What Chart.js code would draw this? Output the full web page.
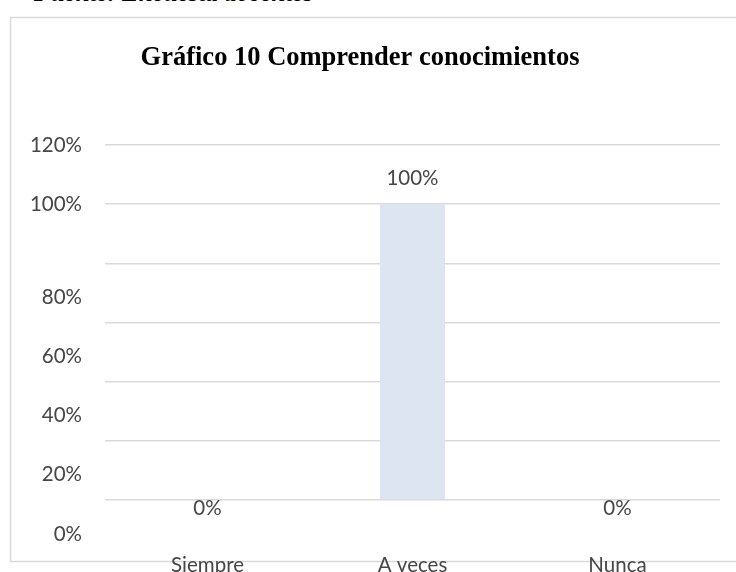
<!DOCTYPE html>
<html>
<head>
<meta charset="utf-8">
<script src="https://cdn.jsdelivr.net/npm/chart.js@4.4.0/dist/chart.umd.min.js"></script>
<style>
  html, body { margin: 0; padding: 0; background: #ffffff; overflow: hidden; width: 736px; height: 572px; }
  #wrap { position: relative; width: 736px; height: 572px; overflow: hidden; }
  #fuente { position: absolute; left: 34px; top: -20px; font-family: 'Liberation Serif', serif; font-size: 25px; line-height: 25px; font-weight: bold; font-style: italic; color: #000; white-space: nowrap; }
  canvas { position: absolute; left: 0; top: 0; }
</style>
</head>
<body>
<div id="wrap">
  <div id="fuente">Fuente: Encuesta docentes</div>
  <canvas id="c" width="736" height="600"></canvas>
</div>
<script>
const chartTitle = 'Gráfico 10 Comprender conocimientos';
const categories = ['Siempre', 'A veces', 'Nunca'];
const values = [0, 1, 0];
const yTickValues = [0, 0.2, 0.4, 0.6, 0.8, 1.0, 1.2];
const yTickLabels = ['0%', '20%', '40%', '60%', '80%', '100%', '120%'];
const dataLabels = ['0%', '100%', '0%'];

const LABEL_SHIFT = 34;      // reference renders lower labels displaced downward
const textColor = '#464646';
const labelFont = '20.5px Lato, "Noto Sans", sans-serif';

const framePlugin = {
  id: 'frame',
  beforeDraw(chart) {
    const ctx = chart.ctx;
    ctx.save();
    ctx.strokeStyle = '#d9d9d9';
    ctx.lineWidth = 1.5;
    ctx.beginPath();
    ctx.moveTo(740, 17.5);
    ctx.lineTo(10.5, 17.5);
    ctx.lineTo(10.5, 561.5);
    ctx.lineTo(740, 561.5);
    ctx.stroke();
    ctx.restore();
  }
};

const labelsPlugin = {
  id: 'customLabels',
  afterDraw(chart) {
    const ctx = chart.ctx;
    const ys = chart.scales.y;
    ctx.save();
    ctx.font = labelFont;
    ctx.fillStyle = textColor;
    ctx.textBaseline = 'middle';
    ctx.textAlign = 'right';
    yTickValues.forEach((v, i) => {
      let py = ys.getPixelForValue(v);
      if (v < 0.9) py += LABEL_SHIFT;
      ctx.fillText(yTickLabels[i], 82, py);
    });
    ctx.textAlign = 'center';
    const meta = chart.getDatasetMeta(0);
    meta.data.forEach((bar, i) => {
      let py = bar.y - 26;
      if (values[i] < 0.9) py += LABEL_SHIFT;
      ctx.fillText(dataLabels[i], bar.x, py);
    });
    ctx.restore();
  }
};

new Chart(document.getElementById('c'), {
  type: 'bar',
  data: {
    labels: categories,
    datasets: [{
      data: values,
      backgroundColor: '#dde5f2',
      borderWidth: 0,
      barPercentage: 0.5,
      categoryPercentage: 0.634
    }]
  },
  options: {
    responsive: false,
    animation: false,
    layout: { padding: { top: 42, right: 16, left: 0, bottom: 0 } },
    plugins: {
      legend: { display: false },
      tooltip: { enabled: false },
      title: {
        display: true,
        text: chartTitle,
        color: '#000000',
        font: { family: '"Liberation Serif", serif', size: 26.5, weight: 'bold', lineHeight: 1.2 },
        padding: { top: 0, bottom: 71.2 }
      }
    },
    scales: {
      x: {
        grid: { display: false, drawTicks: false },
        border: { display: false },
        ticks: { color: textColor, font: { family: 'Lato, "Noto Sans", sans-serif', size: 20.5 }, padding: 53 },
        afterFit(scale) { scale.height = 100; }
      },
      y: {
        min: 0,
        max: 1.2,
        ticks: { stepSize: 0.2, display: false },
        grid: { color: '#d9d9d9', lineWidth: 1.5, drawTicks: false },
        border: { display: false },
        afterFit(scale) { scale.width = 105; }
      }
    }
  },
  plugins: [framePlugin, labelsPlugin]
});
</script>
</body>
</html>
